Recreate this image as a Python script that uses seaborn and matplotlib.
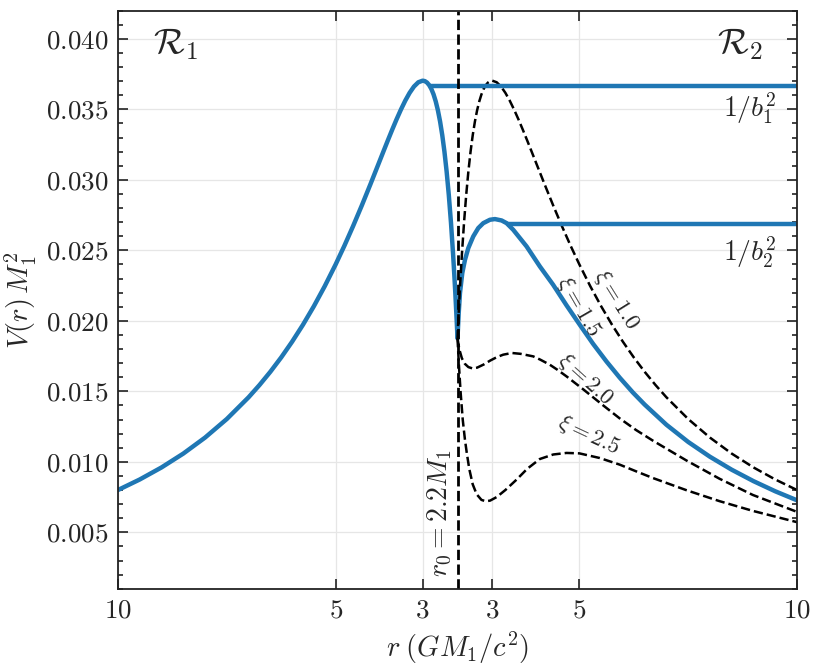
import numpy as np
import pandas as pd
import matplotlib
matplotlib.use("Agg")
import matplotlib.pyplot as plt
from matplotlib.ticker import MultipleLocator, FuncFormatter
import seaborn as sns

# shell radius (units of GM1/c^2)
r0 = 2.2

# region R1: potential, r from 10 down to r0
r_left = [10.0, 9.5, 9.0, 8.5, 8.0, 7.5, 7.0, 6.75, 6.5, 6.25, 6.0, 5.75, 5.5, 5.25, 5.0,
          4.8, 4.6, 4.4, 4.2, 4.0, 3.9, 3.8, 3.7, 3.6, 3.5, 3.4, 3.3, 3.2, 3.1, 3.0, 2.95,
          2.9, 2.85, 2.8, 2.75, 2.7, 2.65, 2.6, 2.55, 2.5, 2.45, 2.4, 2.35, 2.3, 2.27,
          2.25, 2.22, 2.2]
v_left = [0.008000, 0.008748, 0.009602, 0.010584, 0.011719, 0.013037, 0.014577, 0.015445,
          0.016386, 0.017408, 0.018519, 0.019725, 0.021037, 0.022460, 0.024000, 0.025318,
          0.026712, 0.028174, 0.029694, 0.031250, 0.032030, 0.032804, 0.033562, 0.034294,
          0.034985, 0.035620, 0.036174, 0.036621, 0.036924, 0.037037, 0.037005, 0.036902,
          0.036718, 0.036443, 0.036063, 0.035564, 0.034928, 0.034137, 0.033170, 0.032000,
          0.030600, 0.028935, 0.026969, 0.024657, 0.023083, 0.021948, 0.020108, 0.018783]

# region R2, one curve per xi
r_xi10 = r_left  # xi = 1 is the mirror image of region R1
v_xi10 = v_left

r_xi15 = [2.2, 2.228, 2.257, 2.31, 2.372, 2.448, 2.562, 2.677, 2.792, 2.945, 3.06, 3.214,
          3.328, 3.48, 3.787, 4.092, 4.397, 4.705, 5.01, 5.315, 5.622, 5.927, 6.232, 6.5,
          7.0, 7.5, 8.0, 8.5, 9.0, 9.5, 10.0]
v_xi15 = [0.01878, 0.02055, 0.02197, 0.02339, 0.02433, 0.02516, 0.02599, 0.02658, 0.02693,
          0.02717, 0.02722, 0.02712, 0.02693, 0.02646, 0.02528, 0.02386, 0.02256, 0.02110,
          0.01972, 0.01837, 0.01712, 0.01597, 0.01491, 0.01406, 0.01263, 0.01141, 0.01036,
          0.00944, 0.00863, 0.00791, 0.00727]

r_xi20 = [2.2, 2.24, 2.3, 2.37, 2.45, 2.55, 2.65, 2.8, 2.95, 3.1, 3.25, 3.45, 3.65, 3.939,
          4.1, 4.32, 4.5, 4.705, 5.085, 5.544, 5.927, 6.3, 6.69, 7.457, 8.22, 8.985, 10.0]
v_xi20 = [0.01878, 0.01800, 0.01735, 0.01695, 0.01672, 0.01662, 0.01668, 0.01690, 0.01718,
          0.01742, 0.01760, 0.01772, 0.01766, 0.01748, 0.01725, 0.01689, 0.01652, 0.01606,
          0.01515, 0.01401, 0.01308, 0.01226, 0.01150, 0.01010, 0.00880, 0.00765, 0.00645]

r_xi25 = [2.2, 2.23, 2.27, 2.32, 2.37, 2.41, 2.47, 2.55, 2.64, 2.75, 2.85, 2.95, 3.1, 3.3,
          3.558, 3.8, 4.092, 4.4, 4.705, 5.0, 5.468, 5.927, 6.3, 6.69, 7.457, 8.22, 8.985,
          10.0]
v_xi25 = [0.01878, 0.0170, 0.0150, 0.0130, 0.0116, 0.0107, 0.0095, 0.0084, 0.0077, 0.0073,
          0.0072, 0.00725, 0.0075, 0.0080, 0.00874, 0.0095, 0.0102, 0.01052, 0.01063,
          0.0106, 0.01027, 0.0098, 0.00933, 0.00885, 0.00799, 0.00721, 0.00652, 0.00572]

# 1/b^2 levels and where they start (r on the R1 side, r on the R2 side)
b1_level, b1_start_r = 0.03665, 2.83
b2_level, b2_start_r = 0.02690, 3.33

xtick_r = [10, 5, 3]
ytick_vals = [0.005, 0.010, 0.015, 0.020, 0.025, 0.030, 0.035, 0.040]


def to_x(r, side):
    # side 1 is drawn mirrored to the left of the shell
    r = np.asarray(r, dtype=float)
    return -(r - r0) if side == 1 else (r - r0)


sns.set_theme(style="ticks")
plt.rcParams["mathtext.fontset"] = "cm"
plt.rcParams["font.family"] = "serif"
plt.rcParams["font.serif"] = ["cmr10", "DejaVu Serif"]
plt.rcParams["axes.unicode_minus"] = False

fig = plt.figure(figsize=(8.22, 6.71), dpi=100)
ax = fig.add_axes([118 / 822, 1 - 588.7 / 671, 679 / 822, 578 / 671])

blue = "#1f77b4"
dashed = dict(color="black", linestyle="--", linewidth=1.8, estimator=None, sort=False)

sns.lineplot(x=to_x(r_left, 1), y=v_left, ax=ax, color=blue, linewidth=3.2,
             estimator=None, sort=False)
sns.lineplot(x=to_x(r_xi15, 2), y=v_xi15, ax=ax, color=blue, linewidth=3.2,
             estimator=None, sort=False)
for rr, vv in [(r_xi10, v_xi10), (r_xi20, v_xi20), (r_xi25, v_xi25)]:
    sns.lineplot(x=to_x(rr, 2), y=vv, ax=ax, **dashed)

ax.hlines(b1_level, to_x(b1_start_r, 1), 7.8, color=blue, linewidth=3.2)
ax.hlines(b2_level, to_x(b2_start_r, 2), 7.8, color=blue, linewidth=3.2)
ax.axvline(0, color="black", linestyle="--", linewidth=2.0)

ax.set_xlim(-(10 - r0), 10 - r0)
ax.set_ylim(0.001, 0.042)

xt = list(to_x(xtick_r, 1)) + list(to_x(xtick_r[::-1], 2))
ax.set_xticks(xt)
ax.set_xticklabels([f"${r}$" for r in xtick_r + xtick_r[::-1]])
ax.set_yticks(ytick_vals)
ax.yaxis.set_minor_locator(MultipleLocator(0.001))
ax.yaxis.set_major_formatter(FuncFormatter(lambda v, _: f"${v:.3f}$"))

ax.tick_params(which="both", direction="in", top=True, right=True,
               width=1.2, color="#222222", labelsize=19.5, pad=7)
ax.tick_params(which="major", length=7)
ax.tick_params(which="minor", length=3.5)
for s in ax.spines.values():
    s.set_color("#222222")
    s.set_linewidth(1.3)

ax.grid(True, which="major", color="#e6e6e6", linewidth=0.9)
ax.set_axisbelow(True)

ax.set_xlabel(r"$r\;(GM_1/c^2)$", fontsize=20.5)
ax.set_ylabel(r"$V(r)\,M_1^2$", fontsize=20.5)
ax.xaxis.set_label_coords(0.5, -0.072)
ax.yaxis.set_label_coords(-0.116, 0.5)

ax.text(-6.48, 0.0396, r"$\mathcal{R}_1$", fontsize=26, ha="center", va="center")
ax.text(6.48, 0.0396, r"$\mathcal{R}_2$", fontsize=26, ha="center", va="center")
ax.text(7.33, 0.0351, r"$1/b_1^2$", fontsize=20, ha="right", va="center")
ax.text(7.33, 0.0249, r"$1/b_2^2$", fontsize=20, ha="right", va="center")
ax.text(-0.40, 0.0064, r"$r_0 = 2.2M_1$", fontsize=20, rotation=90,
        ha="center", va="center")

xi_labels = [(r"$\xi = 1.0$", 3.66, 0.02150, -58),
             (r"$\xi = 1.5$", 2.79, 0.02100, -60),
             (r"$\xi = 2.0$", 2.95, 0.01585, -42),
             (r"$\xi = 2.5$", 3.02, 0.01190, -25)]
for txt, x, y, rot in xi_labels:
    ax.text(x, y, txt, fontsize=16.5, rotation=rot, ha="center", va="center",
            rotation_mode="anchor")

fig.savefig("out.png", dpi=100)
